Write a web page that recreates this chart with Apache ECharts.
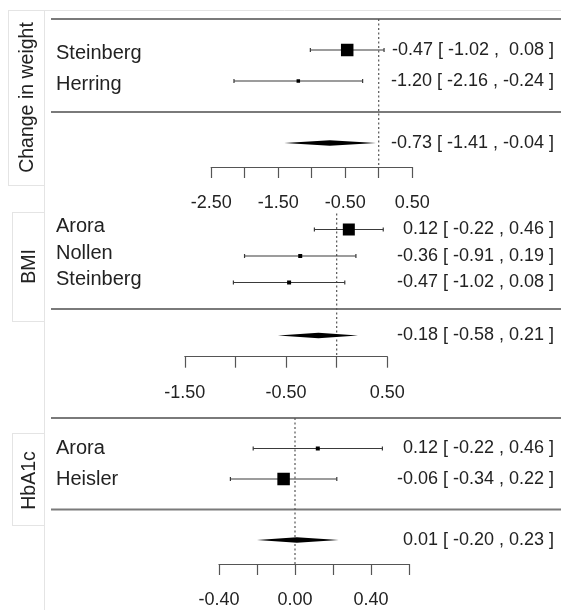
<!DOCTYPE html>
<html><head><meta charset="utf-8">
<script src="https://cdn.jsdelivr.net/npm/echarts@6/dist/echarts.min.js"></script>
<style>html,body{margin:0;padding:0;background:#fff}#c{width:561px;height:610px}</style>
</head><body><div id="c"></div>
<script>
// ---------------- data ----------------
const weightStudies = ['Steinberg', 'Herring'];
const weightEst = [-0.47, -1.20];
const weightLower = [-1.02, -2.16];
const weightUpper = [0.08, -0.24];
const weightPooled = [-0.73, -1.41, -0.04]; // estimate, lower, upper
const weightTickLabels = ['-2.50', '-1.50', '-0.50', '0.50'];

const bmiStudies = ['Arora', 'Nollen', 'Steinberg'];
const bmiEst = [0.12, -0.36, -0.47];
const bmiLower = [-0.22, -0.91, -1.02];
const bmiUpper = [0.46, 0.19, 0.08];
const bmiPooled = [-0.18, -0.58, 0.21];
const bmiTickLabels = ['-1.50', '-0.50', '0.50'];

const hbStudies = ['Arora', 'Heisler'];
const hbEst = [0.12, -0.06];
const hbLower = [-0.22, -0.34];
const hbUpper = [0.46, 0.22];
const hbPooled = [0.01, -0.20, 0.23];
const hbTickLabels = ['-0.40', '0.00', '0.40'];

// ---------------- layout / style ----------------
const FONT = "'Liberation Sans', Arial, Helvetica, sans-serif";
const TXT = '#222';
const panels = [
  { title: 'Change in weight', studies: weightStudies, est: weightEst, lo: weightLower, up: weightUpper, pooled: weightPooled, ticks: weightTickLabels,
    xMin: -2.5, xMax: 0.5, interval: 0.5, grid: { left: 211.2, width: 201, top: 19, height: 148 }, yMin: -1.774, yMax: 3,
    topLine: true, refTop: 3, sizes: [12.5, 3.5], titlePos: [27.5, 97.5], nameDy: 3 },
  { title: 'BMI', studies: bmiStudies, est: bmiEst, lo: bmiLower, up: bmiUpper, pooled: bmiPooled, ticks: bmiTickLabels,
    xMin: -1.5, xMax: 0.5, interval: 0.5, grid: { left: 184.8, width: 202.5, top: 203, height: 153.7 }, yMin: -1.8, yMax: 4,
    topLine: false, refTop: 3.6, sizes: [12, 4, 4], titlePos: [29.5, 266.5], nameDy: -3 },
  { title: 'HbA1c', studies: hbStudies, est: hbEst, lo: hbLower, up: hbUpper, pooled: hbPooled, ticks: hbTickLabels,
    xMin: -0.4, xMax: 0.6, interval: 0.2, grid: { left: 219, width: 190, top: 418, height: 146 }, yMin: -1.787, yMax: 3,
    topLine: true, refTop: 3, sizes: [4, 12.5], titlePos: [29.5, 480.5], nameDy: 0 }
];

function fmt(v) { return (Math.abs(v) < 1e-9 ? 0 : v).toFixed(2); }
function padCol(arr) {
  const s = arr.map(fmt); const w = Math.max(...s.map(x => x.length));
  return s.map(x => ' '.repeat(w - x.length) + x);
}

const grids = [], xAxes = [], yAxes = [], series = [];
panels.forEach((p, pi) => {
  const k = p.studies.length;
  const allEst = padCol(p.est.concat([p.pooled[0]]));
  const allLo = padCol(p.lo.concat([p.pooled[1]]));
  const allUp = padCol(p.up.concat([p.pooled[2]]));
  const annot = allEst.map((e, i) => e.trim() + ' [ ' + allLo[i] + ' , ' + allUp[i] + ' ]');

  grids.push(Object.assign({ containLabel: false }, p.grid));
  xAxes.push({
    type: 'value', gridIndex: pi, min: p.xMin, max: p.xMax, interval: p.interval,
    splitLine: { show: false },
    axisLine: { show: true, onZero: false, lineStyle: { color: '#555', width: 1.2 } },
    axisTick: { show: true, length: 11, lineStyle: { color: '#555', width: 1.2 } },
    axisLabel: { show: true, margin: 27, fontSize: 18, color: TXT, fontFamily: FONT,
      formatter: v => p.ticks.includes(fmt(v)) ? fmt(v) : '' }
  });
  yAxes.push({ type: 'value', gridIndex: pi, min: p.yMin, max: p.yMax, show: false });

  // separator lines and reference line
  const sepRows = p.topLine ? [k + 1, 0] : [0];
  series.push({
    type: 'custom', xAxisIndex: pi, yAxisIndex: pi, silent: true,
    data: sepRows.map(r => [0, r]),
    renderItem: (params, api) => {
      const y = api.coord([0, api.value(1)])[1];
      return { type: 'line', shape: { x1: 51, y1: y, x2: 561, y2: y }, style: { stroke: '#7a7a7a', lineWidth: 2 } };
    }
  });
  series.push({
    type: 'custom', xAxisIndex: pi, yAxisIndex: pi, silent: true,
    data: [[0, p.refTop, p.yMin]],
    renderItem: (params, api) => {
      const a = api.coord([api.value(0), api.value(1)]);
      const b = api.coord([api.value(0), api.value(2)]);
      return { type: 'line', shape: { x1: a[0], y1: a[1], x2: b[0], y2: b[1] },
        style: { stroke: '#555', lineWidth: 1.2, lineDash: [2, 2.5] } };
    }
  });
  // studies
  series.push({
    type: 'custom', xAxisIndex: pi, yAxisIndex: pi, silent: true,
    data: p.studies.map((n, i) => [p.est[i], k - i, p.lo[i], p.up[i]]),
    renderItem: (params, api) => {
      const i = params.dataIndex;
      const row = api.value(1);
      const c = api.coord([api.value(0), row]);
      const l = api.coord([api.value(2), row]);
      const u = api.coord([api.value(3), row]);
      const s = p.sizes[i];
      const ls = { stroke: '#3a3a3a', lineWidth: 1.2 };
      return { type: 'group', children: [
        { type: 'line', shape: { x1: l[0], y1: c[1], x2: u[0], y2: c[1] }, style: ls },
        { type: 'line', shape: { x1: l[0], y1: c[1] - 2, x2: l[0], y2: c[1] + 2 }, style: ls },
        { type: 'line', shape: { x1: u[0], y1: c[1] - 2, x2: u[0], y2: c[1] + 2 }, style: ls },
        { type: 'rect', shape: { x: c[0] - s / 2, y: c[1] - s / 2, width: s, height: s }, style: { fill: '#000' } },
        { type: 'text', style: { text: p.studies[i], x: 56, y: c[1] + p.nameDy, fill: TXT, font: '20px ' + FONT, textAlign: 'left', textVerticalAlign: 'middle' } },
        { type: 'text', style: { text: annot[i], x: 554, y: c[1], fill: TXT, font: '18px ' + FONT, textAlign: 'right', textVerticalAlign: 'middle' } }
      ] };
    }
  });
  // pooled diamond
  series.push({
    type: 'custom', xAxisIndex: pi, yAxisIndex: pi, silent: true,
    data: [[p.pooled[0], -1, p.pooled[1], p.pooled[2]]],
    renderItem: (params, api) => {
      const row = api.value(1);
      const c = api.coord([api.value(0), row]);
      const l = api.coord([api.value(2), row]);
      const u = api.coord([api.value(3), row]);
      const h = 2.8;
      return { type: 'group', children: [
        { type: 'polygon', shape: { points: [[l[0], c[1]], [c[0], c[1] - h], [u[0], c[1]], [c[0], c[1] + h]] }, style: { fill: '#000' } },
        { type: 'text', style: { text: annot[k], x: 554, y: c[1], fill: TXT, font: '18px ' + FONT, textAlign: 'right', textVerticalAlign: 'middle' } }
      ] };
    }
  });
});

// strip frames + titles
const faint = { stroke: '#e4e4e4', lineWidth: 1 };
const L = (x1, y1, x2, y2) => ({ type: 'line', silent: true, shape: { x1, y1, x2, y2 }, style: faint });
const graphic = [
  L(8, 10.5, 561, 10.5), L(8.5, 10, 8.5, 185), L(8, 185.5, 45, 185.5), L(44.5, 10, 44.5, 610),
  L(12.5, 212, 12.5, 321), L(12, 212.5, 45, 212.5), L(12, 321.5, 45, 321.5),
  L(12.5, 433, 12.5, 525), L(12, 433.5, 45, 433.5), L(12, 525.5, 45, 525.5)
];
panels.forEach(p => {
  graphic.push({ type: 'text', silent: true, x: p.titlePos[0], y: p.titlePos[1], rotation: Math.PI / 2,
    style: { text: p.title, fill: TXT, font: '19.5px ' + FONT, textAlign: 'center', textVerticalAlign: 'middle' } });
});

const chart = echarts.init(document.getElementById('c'), null, { renderer: 'canvas' });
chart.setOption({
  animation: false, backgroundColor: '#fff',
  grid: grids, xAxis: xAxes, yAxis: yAxes, series: series, graphic: graphic
});
</script></body></html>
